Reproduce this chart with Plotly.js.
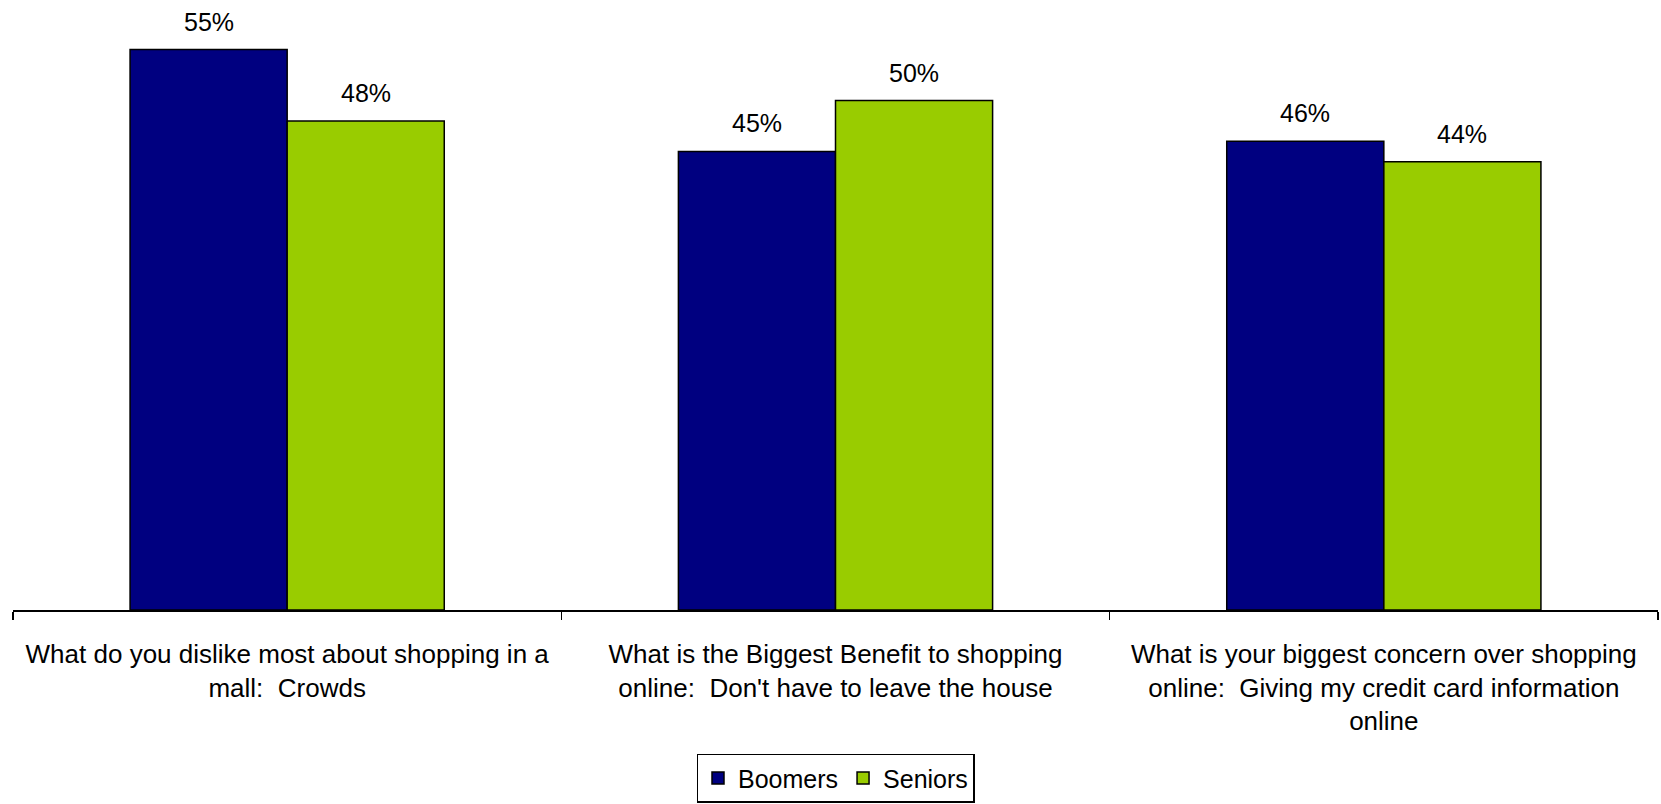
<!DOCTYPE html>
<html>
<head>
<meta charset="utf-8">
<script src="https://cdn.plot.ly/plotly-3.0.1.min.js"></script>
<style>html,body{margin:0;padding:0;background:#fff;}#chart{width:1661px;height:804px;}</style>
</head>
<body>
<div id="chart"></div>
<script>
const categories = [
  "What do you dislike most about shopping in a<br>mall:\u00a0 Crowds",
  "What is the Biggest Benefit to shopping<br>online:\u00a0 Don't have to leave the house",
  "What is your biggest concern over shopping<br>online:\u00a0 Giving my credit card information<br>online"
];
const boomers = [55, 45, 46];
const seniors = [48, 50, 44];
const seriesNames = ["Boomers", "Seniors"];
const colors = ["#000080", "#99CC00"];

const font = {family: "Liberation Sans, Arial, sans-serif", size: 25, color: "#000"};
const tickFont = {family: "Liberation Sans, Arial, sans-serif", size: 26, color: "#000"};

function mk(name, vals, color) {
  return {
    type: "bar", name: name, x: categories, y: vals,
    marker: {color: color, line: {color: "#000", width: 1.5}},
    hoverinfo: "skip"
  };
}

const data = [mk(seriesNames[0], boomers, colors[0]), mk(seriesNames[1], seniors, colors[1])];

const halfBar = 78.5;
const annotations = [];
[boomers, seniors].forEach((vals, i) => {
  vals.forEach((v, j) => {
    annotations.push({
      x: categories[j], y: v, xref: "x", yref: "y",
      text: v + "%", showarrow: false, font: font,
      xshift: (i === 0 ? -1 : 1) * halfBar, yshift: 28, yanchor: "middle"
    });
  });
});

const layout = {
  width: 1661, height: 804,
  margin: {l: 13, r: 3, t: 20, b: 194, pad: 0},
  paper_bgcolor: "#fff", plot_bgcolor: "#fff",
  font: font,
  barmode: "group", bargap: 0.427, bargroupgap: 0,
  showlegend: true,
  legend: {orientation: "h", x: 0.5, xanchor: "center", xref: "paper",
           y: 0.0625, yanchor: "top", yref: "container",
           bordercolor: "#000", borderwidth: 1.5, font: font, traceorder: "normal"},
  annotations: annotations,
  xaxis: {type: "category", automargin: false, showline: true, linecolor: "#000", linewidth: 1.5,
          ticks: "outside", tickson: "boundaries", ticklen: 8, tickwidth: 1.5, tickcolor: "#000",
          tickfont: tickFont, ticklabelstandoff: 20, showgrid: false, zeroline: false},
  yaxis: {range: [0, 57.9], visible: false, automargin: false, showgrid: false, zeroline: false}
};

Plotly.newPlot("chart", data, layout, {displayModeBar: false, staticPlot: true});
</script>
</body>
</html>
